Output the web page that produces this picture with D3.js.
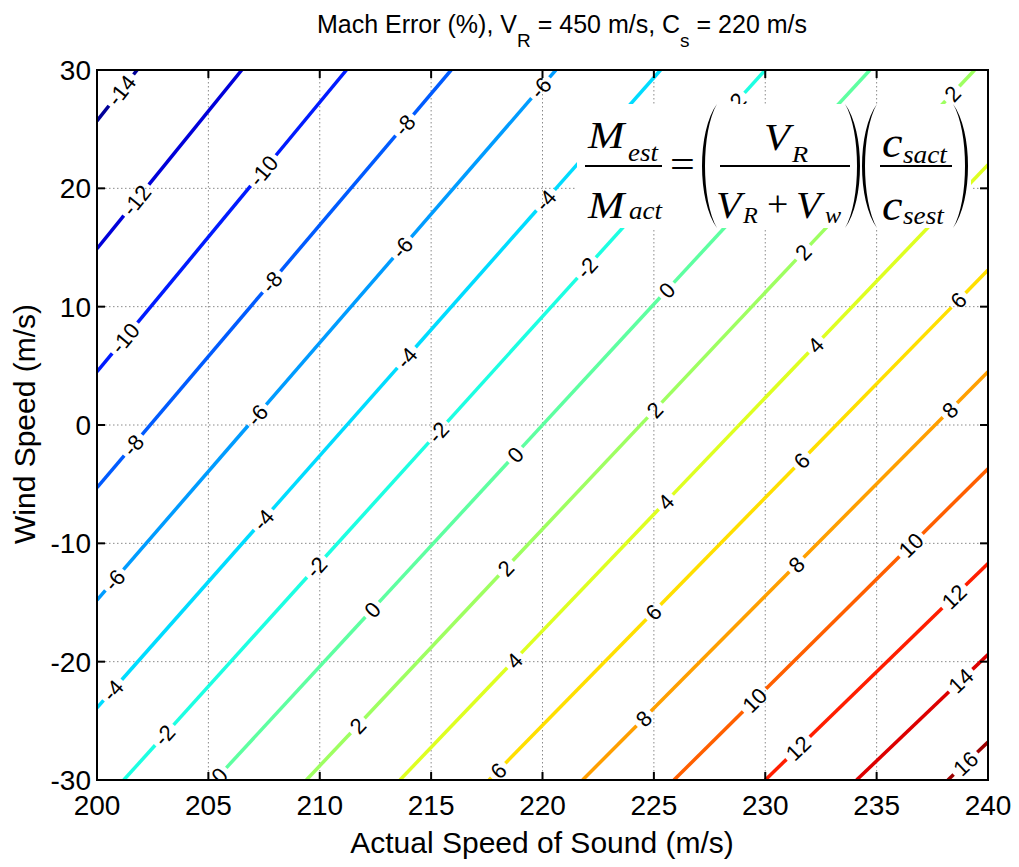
<!DOCTYPE html>
<html><head><meta charset="utf-8">
<script src="https://cdn.jsdelivr.net/npm/d3@7"></script>
<style>body{margin:0;background:#fff}</style>
</head><body>
<svg id="chart" width="1019" height="867"></svg>
<script>
// ---------- data ----------
const xTicks = [200, 205, 210, 215, 220, 225, 230, 235, 240];
const yTicks = [-30, -20, -10, 0, 10, 20, 30];
const levels = [-14, -12, -10, -8, -6, -4, -2, 0, 2, 4, 6, 8, 10, 12, 14, 16];
// each contour is a straight line: where it enters and where it leaves the plot
const lineStartSound = [200, 200, 200, 200, 200, 200, 201.2, 205.3, 209.4, 213.6, 217.6, 221.8, 225.9, 230.0, 234.1, 238.2];
const lineStartWind  = [25.7, 14.9, 4.5, -5.3, -14.8, -23.9, -30, -30, -30, -30, -30, -30, -30, -30, -30, -30];
const lineEndSound   = [201.8, 206.5, 211.2, 215.9, 220.6, 225.3, 230.0, 234.7, 239.4, 240, 240, 240, 240, 240, 240, 240];
const lineEndWind    = [30, 30, 30, 30, 30, 30, 30, 30, 30, 22.0, 13.1, 4.5, -3.7, -11.7, -19.4, -26.8];
// contour labels: level and wind speed where the label sits
const labelLevels = [-14, -12, -10, -10, -8, -8, -8, -6, -6, -6, -6, -4, -4, -4, -4,
  -2, -2, -2, -2, -2, 0, 0, 0, 0, 2, 2, 2, 2, 2, 4, 4, 4, 6, 6, 6, 6, 8, 8, 8, 10, 10, 12, 12, 14, 16];
const labelWind = [28.3, 19.0, 21.5, 7.35, 25.35, 12.1, -1.7, 28.5, 15.0, 0.84, -13.1, 19.0, 5.7, -8.0, -22.4,
  27.2, 13.3, -0.6, -12.0, -26.2, 11.4, -2.5, -15.6, -29.6, 28, 14.6, 1.27, -12.1, -25.4, 6.75, -6.5, -19.9,
  10.55, -3.0, -15.8, -29.2, 1.26, -11.8, -24.8, -10.15, -23.25, -14.5, -27.3, -21.6, -28.6];
const colorRange = [-14.8, 16.9];

// ---------- drawing ----------
const svg = d3.select("#chart");
const x = d3.scaleLinear().domain([200, 240]).range([97, 988]);
const y = d3.scaleLinear().domain([-30, 30]).range([780, 70]);
const sans = "'Liberation Sans', Arial, Helvetica, sans-serif";
const serif = "'Liberation Serif', 'Times New Roman', serif";

function jet(t) {
  const c = v => Math.max(0, Math.min(1, v));
  const r = c(1.5 - Math.abs(4 * t - 3)), g = c(1.5 - Math.abs(4 * t - 2)), b = c(1.5 - Math.abs(4 * t - 1));
  return d3.rgb(r * 255, g * 255, b * 255).toString();
}
const tScale = d3.scaleLinear().domain(colorRange).range([0, 1]);

svg.append("defs").append("clipPath").attr("id", "plotclip")
  .append("rect").attr("x", x(200)).attr("y", y(30)).attr("width", x(240) - x(200)).attr("height", y(-30) - y(30));

// grid
const grid = svg.append("g").attr("stroke", "#8a8a8a").attr("stroke-width", 1).attr("stroke-dasharray", "1.5,2.5");
grid.selectAll("line.gx").data(xTicks.slice(1, -1)).join("line")
  .attr("x1", d => x(d)).attr("x2", d => x(d)).attr("y1", y(30)).attr("y2", y(-30));
grid.selectAll("line.gy").data(yTicks.slice(1, -1)).join("line")
  .attr("y1", d => y(d)).attr("y2", d => y(d)).attr("x1", x(200)).attr("x2", x(240));

const plot = svg.append("g").attr("clip-path", "url(#plotclip)");
const linesG = plot.append("g");
const labelsG = plot.append("g");

const lines = levels.map((L, i) => {
  const p0 = [x(lineStartSound[i]), y(lineStartWind[i])];
  const p1 = [x(lineEndSound[i]), y(lineEndWind[i])];
  const len = Math.hypot(p1[0] - p0[0], p1[1] - p0[1]);
  const u = [(p1[0] - p0[0]) / len, (p1[1] - p0[1]) / len];
  return {L, i, p0, p1, len, u, angle: Math.atan2(u[1], u[0]) * 180 / Math.PI, gaps: []};
});

labelLevels.forEach((L, k) => {
  const ln = lines[levels.indexOf(L)];
  const i = ln.i;
  const w = labelWind[k];
  const sx = lineStartSound[i] + (w - lineStartWind[i]) * (lineEndSound[i] - lineStartSound[i]) / (lineEndWind[i] - lineStartWind[i]);
  const cx = x(sx), cy = y(w);
  const t = labelsG.append("text")
    .attr("transform", `translate(${cx},${cy}) rotate(${ln.angle})`)
    .attr("text-anchor", "middle").attr("dy", "0.36em")
    .attr("font-family", sans).attr("font-size", 22).attr("fill", "#000")
    .text(String(L));
  const tw = t.node().getComputedTextLength();
  const s = (cx - ln.p0[0]) * ln.u[0] + (cy - ln.p0[1]) * ln.u[1];
  ln.gaps.push([s - tw / 2 - 4, s + tw / 2 + 4]);
});

lines.forEach(ln => {
  const gaps = ln.gaps.sort((a, b) => a[0] - b[0]);
  let segs = [], cur = 0;
  gaps.forEach(g => { if (g[0] > cur) segs.push([cur, g[0]]); cur = Math.max(cur, g[1]); });
  if (cur < ln.len) segs.push([cur, ln.len]);
  segs.forEach(sg => {
    linesG.append("line")
      .attr("x1", ln.p0[0] + ln.u[0] * sg[0]).attr("y1", ln.p0[1] + ln.u[1] * sg[0])
      .attr("x2", ln.p0[0] + ln.u[0] * sg[1]).attr("y2", ln.p0[1] + ln.u[1] * sg[1])
      .attr("stroke", jet(tScale(ln.L))).attr("stroke-width", 3.5).attr("stroke-linecap", "butt");
  });
});

// equation inset
const eq = svg.append("g");
eq.append("rect").attr("x", 577).attr("y", 104).attr("width", 394).attr("height", 124).attr("fill", "#fff");
function it(txt, px, py, fs, sxs = 1.1, italic = true) {
  eq.append("text").attr("transform", `translate(${px},${py}) scale(${sxs},1)`).attr("font-family", serif)
    .attr("font-style", italic ? "italic" : "normal").attr("font-size", fs).attr("fill", "#000").text(txt);
}
function bar(x1, x2, yy) {
  eq.append("line").attr("x1", x1).attr("x2", x2).attr("y1", yy).attr("y2", yy).attr("stroke", "#000").attr("stroke-width", 2);
}
function paren(xEnd, xBulge, top, bot) {
  const h = bot - top;
  const inner = xEnd + (xBulge - xEnd) * 0.8;
  eq.append("path").attr("fill", "#000").attr("d",
    `M${xEnd},${top} C${xBulge},${top + h * 0.22} ${xBulge},${bot - h * 0.22} ${xEnd},${bot} ` +
    `C${inner},${bot - h * 0.22} ${inner},${top + h * 0.22} ${xEnd},${top} Z`);
}
it("M", 588, 148, 37, 1.18); it("est", 628, 161, 25, 1.08);
bar(585, 662, 166);
it("M", 588, 218, 37, 1.18); it("act", 629, 219, 25, 1.08);
it("=", 670, 178, 40, 1.1, false);
paren(717, 697, 104, 228);
it("V", 764, 150, 37, 1.15); it("R", 792, 162, 24, 1.1);
bar(720, 850, 166);
it("V", 716, 218, 37, 1.12); it("R", 743, 223, 23, 1.05);
it("+", 767, 216, 36, 1.05, false);
it("V", 796, 218, 37, 1.1); it("w", 825, 223, 23, 1.05);
paren(845, 865, 104, 228);
paren(877, 857, 104, 228);
it("c", 882, 157, 44, 1.05); it("sact", 903, 163, 26, 1.05);
bar(880, 952, 166);
it("c", 882, 220, 44, 1.05); it("sest", 903, 224, 26, 1.05);
paren(953, 973, 104, 228);

// axes frame and ticks
const ax = svg.append("g").attr("stroke", "#000").attr("stroke-width", 2);
ax.append("rect").attr("x", x(200)).attr("y", y(30)).attr("width", x(240) - x(200)).attr("height", y(-30) - y(30)).attr("fill", "none");
const tl = 8;
xTicks.forEach(v => {
  ax.append("line").attr("x1", x(v)).attr("x2", x(v)).attr("y1", y(-30)).attr("y2", y(-30) - tl);
  ax.append("line").attr("x1", x(v)).attr("x2", x(v)).attr("y1", y(30)).attr("y2", y(30) + tl);
});
yTicks.forEach(v => {
  ax.append("line").attr("y1", y(v)).attr("y2", y(v)).attr("x1", x(200)).attr("x2", x(200) + tl);
  ax.append("line").attr("y1", y(v)).attr("y2", y(v)).attr("x1", x(240)).attr("x2", x(240) - tl);
});
svg.append("g").selectAll("text").data(xTicks).join("text")
  .attr("x", d => x(d)).attr("y", 815).attr("text-anchor", "middle")
  .attr("font-family", sans).attr("font-size", 28).attr("fill", "#000").text(d => d);
svg.append("g").selectAll("text").data(yTicks).join("text")
  .attr("x", 91).attr("y", d => y(d)).attr("dy", "0.36em").attr("text-anchor", "end")
  .attr("font-family", sans).attr("font-size", 28).attr("fill", "#000").text(d => d);

// titles
const title = svg.append("text").attr("x", 562).attr("y", 33).attr("text-anchor", "middle")
  .attr("font-family", sans).attr("font-size", 25).attr("fill", "#000");
title.append("tspan").text("Mach Error (%), V");
title.append("tspan").attr("dy", 14).attr("font-size", 19).text("R");
title.append("tspan").attr("dy", -14).text(" = 450 m/s, C");
title.append("tspan").attr("dy", 14).attr("font-size", 19).text("s");
title.append("tspan").attr("dy", -14).text(" = 220 m/s");

svg.append("text").attr("x", 542).attr("y", 853).attr("text-anchor", "middle")
  .attr("font-family", sans).attr("font-size", 30).attr("fill", "#000").text("Actual Speed of Sound (m/s)");
svg.append("text").attr("transform", "translate(35,424) rotate(-90)").attr("text-anchor", "middle")
  .attr("font-family", sans).attr("font-size", 30).attr("fill", "#000").text("Wind Speed (m/s)");
</script>
</body></html>
